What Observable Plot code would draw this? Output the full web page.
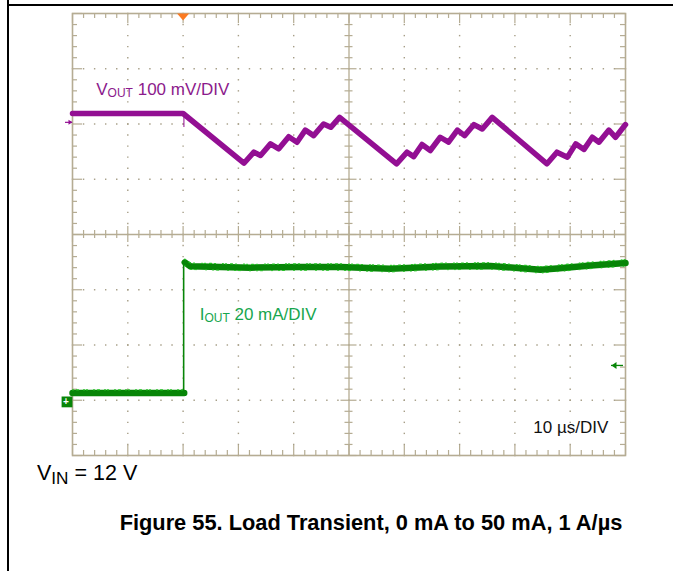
<!DOCTYPE html>
<html><head><meta charset="utf-8">
<script src="https://cdn.jsdelivr.net/npm/d3@7"></script>
<script src="https://cdn.jsdelivr.net/npm/@observablehq/plot@0.6"></script>
<style>
html,body{margin:0;padding:0;background:#fff}
body{width:673px;height:571px;position:relative;overflow:hidden;font-family:"Liberation Sans",Arial,sans-serif;color:#000}
#lineL{position:absolute;left:7px;top:0;width:2px;height:571px;background:#000}
#lineT{position:absolute;left:7px;top:4px;width:666px;height:2px;background:#000}
#chart{position:absolute;left:0;top:0}
#vin{position:absolute;left:37px;top:463px;font-size:21.5px;line-height:21px;white-space:nowrap}
#vin sub{font-size:0.8em;line-height:0;vertical-align:-0.22em}
#cap{position:absolute;left:0;width:742px;text-align:center;top:512px;font-size:21.8px;line-height:22px;font-weight:bold;white-space:nowrap}
</style></head>
<body>
<div id="lineL"></div><div id="lineT"></div>
<div id="chart"></div>
<div id="vin">V<sub>IN</sub> = 12 V</div>
<div id="cap">Figure 55. Load Transient, 0 mA to 50 mA, 1 A/µs</div>
<script>
// ---- channel settings (scope) ----
const timePerDiv = 10;          // µs/DIV
const vScale = 100;             // mV/DIV
const iScale = 20;              // mA/DIV
const vOffsetDiv = 2.19;        // VOUT trace level on screen (div)
const iOffsetDiv = -2.87;       // IOUT 0 mA level on screen (div)
const vMarkerDiv = 2.03;
const iMarkerDiv = -3.03;
const trigLevelDiv = -2.37;
const trigTime = 20;            // µs

// ---- VOUT (mV deviation) vs time (µs) ----
const voutT  = [0, 20, 31.0, 32.8, 34.0, 35.8, 37.3, 39.1, 40.6, 42.1, 43.6, 45.4, 46.7, 48.3,
                58.6, 60.5, 61.7, 63.2, 64.7, 66.5, 68.0, 69.6, 70.9, 72.6, 74.1, 75.9,
                85.8, 87.6, 89.5, 91.0, 92.5, 94.0, 95.2, 97.0, 98.2, 100];
const voutMv = [0, 0, -90, -70, -76, -55, -64, -42, -52, -30, -40, -19, -25, -7,
                -91, -70, -78, -56, -67, -43, -52, -30, -40, -20, -28, -7,
                -91, -70, -79, -55, -65, -43, -52, -30, -43, -20];

// ---- IOUT (mA) vs time (µs) ----
const ioutT  = [0, 20.2, 20.3, 21.3, 32.2, 41.2, 48.5, 57.5, 66.5, 75.6, 84.6, 87.6, 93.7, 100];
const ioutMa = [0, 0, 47.3, 45.9, 45.4, 45.6, 45.6, 45.0, 45.8, 46.0, 44.6, 45.1, 46.2, 47.1];

// ---- labels ----
const labelMain = ["V", "I", "10 µs/DIV"];
const labelSub  = ["OUT", "OUT", ""];
const labelRest = [" 100 mV/DIV", " 20 mA/DIV", ""];
const labelT    = [4.3, 23.0, 96.9];
const labelDiv  = [2.53, -1.54, -3.6];

const purple = "#930f93", green = "#078507", lightGreen = "#22c322";
const labelColors = ["#8c1a8c", "#17a64e", "#111"];
const gridColor = "#b5ac93", dotColor = "#a69e87", trigColor = "#fb7a22";

const vout = voutT.map((t, i) => ({t, y: vOffsetDiv + voutMv[i] / vScale}));
const iout = ioutT.map((t, i) => ({t, y: iOffsetDiv + ioutMa[i] / iScale}));
const iLow = iout.filter(d => d.t <= trigTime + 0.2);
const iHigh = iout.filter(d => d.t > trigTime + 0.25);
const labels = labelMain.map((m, i) => ({t: labelT[i], y: labelDiv[i], text: m + labelSub[i] + labelRest[i], i}));

// grid geometry
const xDivs = d3.range(0, 10.001, 1).map(d => d * timePerDiv);
const xMinor = d3.range(0, 50.5).map(k => k * timePerDiv / 5);
const yMinor = d3.range(0, 40.5).map(k => -4 + k * 0.2);
const yDivs = d3.range(-4, 4.001, 1);
const innerX = xDivs.filter(x => x > 0 && x < 100 && x !== 50);
const innerY = yDivs.filter(y => y > -4 && y < 4 && y !== 0);
const dots = [...innerX.flatMap(x => yMinor.map(y => ({x, y}))), ...innerY.flatMap(y => xMinor.map(x => ({x, y})))];
const isMajX = x => Math.abs(x / timePerDiv - Math.round(x / timePerDiv)) < 1e-6;
const isMajY = y => Math.abs(y - Math.round(y)) < 1e-6;

const trigSymbol = {draw(ctx) { ctx.moveTo(-6, 0); ctx.lineTo(6, 0); ctx.lineTo(0, 7); ctx.closePath(); }};
const leftArrowHead = {draw(ctx) { ctx.moveTo(0, 0); ctx.lineTo(5, -3.5); ctx.lineTo(5, 3.5); ctx.closePath(); }};
const rightArrowHead = {draw(ctx) { ctx.moveTo(0, 0); ctx.lineTo(-4, -2.5); ctx.lineTo(-4, 2.5); ctx.closePath(); }};

const pxX = 553 / 100, pxY = 442 / 8; // px per unit (for tick lengths)
const tl = (px) => px / pxY, tlx = (px) => px / pxX;

const chart = Plot.plot({
  width: 673, height: 462,
  marginLeft: 72, marginRight: 48, marginTop: 13, marginBottom: 7,
  x: {domain: [0, 100], axis: null},
  y: {domain: [-4, 4], axis: null},
  style: {fontFamily: '"Liberation Sans", Arial, sans-serif', background: "transparent", overflow: "visible"},
  marks: [
    Plot.dot(dots, {x: "x", y: "y", symbol: "square", r: 0.8, fill: dotColor}),
    // center cross
    Plot.ruleY([0], {stroke: gridColor, strokeWidth: 1.3}),
    Plot.ruleX([50], {stroke: gridColor, strokeWidth: 1.3}),
    Plot.ruleX(xMinor, {x: d => d, y1: d => isMajX(d) ? -tl(8) : -tl(4), y2: d => isMajX(d) ? tl(8) : tl(4), stroke: gridColor, strokeWidth: 1.2}),
    Plot.ruleY(yMinor, {y: d => d, x1: d => 50 - (isMajY(d) ? tlx(8) : tlx(4)), x2: d => 50 + (isMajY(d) ? tlx(8) : tlx(4)), stroke: gridColor, strokeWidth: 1.2}),
    // edge ticks
    Plot.ruleX(xMinor, {x: d => d, y1: 4, y2: d => 4 - (isMajX(d) ? tl(10) : tl(5)), stroke: gridColor, strokeWidth: 1.2}),
    Plot.ruleX(xMinor, {x: d => d, y1: -4, y2: d => -4 + (isMajX(d) ? tl(10) : tl(5)), stroke: gridColor, strokeWidth: 1.2}),
    Plot.ruleY(yMinor, {y: d => d, x1: 0, x2: d => isMajY(d) ? tlx(10) : tlx(5), stroke: gridColor, strokeWidth: 1.2}),
    Plot.ruleY(yMinor, {y: d => d, x1: 100, x2: d => 100 - (isMajY(d) ? tlx(10) : tlx(5)), stroke: gridColor, strokeWidth: 1.2}),
    Plot.frame({stroke: gridColor, strokeWidth: 1.6}),
    // IOUT trace
    Plot.line(iLow, {x: "t", y: "y", stroke: green, strokeWidth: 6.5}),
    Plot.line(iLow, {x: "t", y: "y", stroke: lightGreen, strokeWidth: 1.2, dy: -3.2, strokeDasharray: "1,3,2,5,1,2,1,6"}),
    Plot.ruleX([trigTime], {x: d => d + 0.1, y1: iLow[iLow.length - 1].y, y2: iHigh[0].y, stroke: green, strokeWidth: 1.6}),
    Plot.line(iHigh, {x: "t", y: "y", stroke: green, strokeWidth: 6.5}),
    Plot.line(iHigh, {x: "t", y: "y", stroke: lightGreen, strokeWidth: 1.2, dy: -3.3, strokeDasharray: "1,4,2,3,1,7,1,2"}),
    Plot.line(iHigh, {x: "t", y: "y", stroke: lightGreen, strokeWidth: 1, dy: 3.2, strokeDasharray: "1,6,1,3,2,9"}),
    // VOUT trace
    Plot.line(vout, {x: "t", y: "y", stroke: purple, strokeWidth: 5.5, strokeLinejoin: "round"}),
    Plot.ruleX([trigTime], {x: d => d + 0.15, y1: vout[1].y, y2: vout[1].y - tl(14), stroke: purple, strokeWidth: 1}),
    // markers
    Plot.ruleY([vMarkerDiv], {y: d => d, x1: -tlx(7), x2: 0, stroke: purple, strokeWidth: 1.2}),
    Plot.dot([vMarkerDiv], {x: 0, y: d => d, symbol: rightArrowHead, fill: purple}),
    Plot.dot([iMarkerDiv], {x: 0, y: d => d, symbol: "square", r: 6.1, fill: green, dx: -5.5}),
    Plot.text([iMarkerDiv], {x: 0, y: d => d, text: () => "+", fill: "#fff", fontSize: 10, fontWeight: "bold", dx: -6.5}),
    Plot.ruleY([trigLevelDiv], {y: d => d, x1: 100 - tlx(14), x2: 100 - tlx(2), stroke: green, strokeWidth: 1.3}),
    Plot.dot([trigLevelDiv], {x: 100 - tlx(14), y: d => d, symbol: leftArrowHead, fill: green}),
    Plot.dot([trigTime], {x: d => d, y: 4, symbol: trigSymbol, fill: trigColor}),
    // labels
    Plot.text(labels.filter(d => labelSub[d.i]), {x: "t", y: "y", text: "text", textAnchor: "start", lineAnchor: "bottom", fill: d => labelColors[d.i], fontSize: 17}),
    Plot.text(labels.filter(d => !labelSub[d.i]), {x: "t", y: "y", text: "text", textAnchor: "end", lineAnchor: "bottom", fill: d => labelColors[d.i], fontSize: 17})
  ]
});

// subscripts
const ns = "http://www.w3.org/2000/svg";
chart.querySelectorAll("text").forEach(el => {
  const k = labels.findIndex(l => l.text === el.textContent);
  if (k < 0 || !labelSub[k]) return;
  el.textContent = "";
  const a = document.createElementNS(ns, "tspan"); a.textContent = labelMain[k];
  const b = document.createElementNS(ns, "tspan"); b.textContent = labelSub[k]; b.setAttribute("font-size", "12"); b.setAttribute("dy", "2");
  const c = document.createElementNS(ns, "tspan"); c.textContent = labelRest[k]; c.setAttribute("dy", "-2");
  el.append(a, b, c);
});
document.getElementById("chart").append(chart);
</script>
</body></html>
